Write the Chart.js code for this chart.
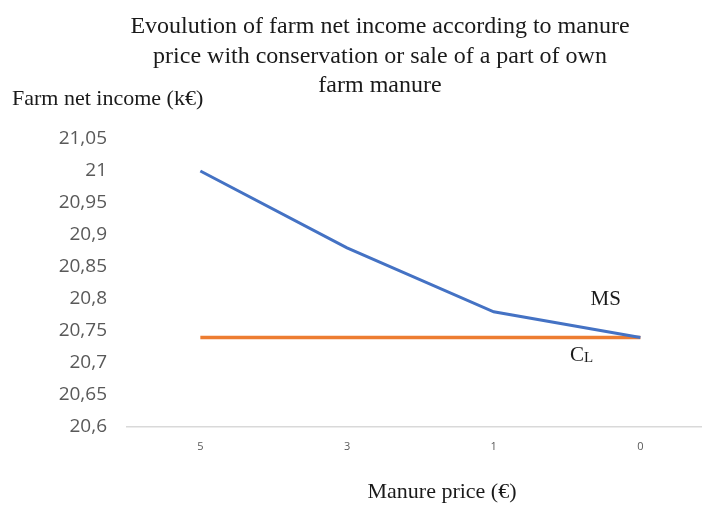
<!DOCTYPE html>
<html>
<head>
<meta charset="utf-8">
<script src="https://cdn.jsdelivr.net/npm/chart.js@4"></script>
<style>
  html, body { margin: 0; padding: 0; background: #fff; }
  #wrap { width: 702px; height: 505px; position: relative; }
</style>
</head>
<body>
<div id="wrap"><canvas id="chart"></canvas></div>
<script>
// data
const priceLabels = ['5', '3', '1', '0'];
const msIncome = [21, 20.88, 20.78, 20.74];
const clIncome = [20.74, 20.74, 20.74, 20.74];
const yTicks = [20.6, 20.65, 20.7, 20.75, 20.8, 20.85, 20.9, 20.95, 21, 21.05];

const titleLines = [
    'Evoulution of farm net income according to manure',
    'price with conservation or sale of a part of own',
    'farm manure'
];

const serif = '"Liberation Serif", "Times New Roman", serif';

// draws the titles and series labels
const textPlugin = {
    id: 'texts',
    afterDraw(chart) {
        const ctx = chart.ctx;
        const x = chart.scales.x, y = chart.scales.y;
        ctx.save();
        ctx.fillStyle = '#1a1a1a';
        ctx.textBaseline = 'middle';
        ctx.font = '24px ' + serif;
        ctx.textAlign = 'center';
        titleLines.forEach((line, i) => ctx.fillText(line, 380, 27 + i * 29.5));

        ctx.font = '22px ' + serif;
        ctx.textAlign = 'left';
        ctx.fillText('Farm net income (k\u20AC)', 12, 99);

        ctx.textAlign = 'center';
        ctx.fillText('Manure price (\u20AC)', 442, 492);

        // series labels near the right end
        ctx.textAlign = 'left';
        ctx.font = '21px ' + serif;
        ctx.fillText('MS', x.getPixelForValue(2.66), y.getPixelForValue(20.8));
        const cx = x.getPixelForValue(2.52), cy = y.getPixelForValue(20.711);
        ctx.fillText('C', cx, cy);
        const cw = ctx.measureText('C').width;
        ctx.font = '15px ' + serif;
        ctx.fillText('L', cx + cw, cy + 2);
        ctx.restore();
    }
};

new Chart(document.getElementById('chart'), {
    type: 'line',
    data: {
        datasets: [
            {
                label: 'MS',
                data: msIncome.map((v, i) => ({ x: i, y: v })),
                borderColor: '#4472C4',
                borderWidth: 3,
                pointRadius: 0,
                tension: 0
            },
            {
                label: 'CL',
                data: clIncome.map((v, i) => ({ x: i, y: v })),
                borderColor: '#ED7D31',
                borderWidth: 3.5,
                pointRadius: 0,
                tension: 0
            }
        ]
    },
    options: {
        responsive: true,
        maintainAspectRatio: false,
        animation: false,
        layout: { padding: { top: 139, left: 0, right: 0, bottom: 0 } },
        plugins: {
            legend: { display: false },
            tooltip: { enabled: false }
        },
        scales: {
            x: {
                type: 'linear',
                min: -0.5,
                max: 3.42,
                afterBuildTicks: s => { s.ticks = priceLabels.map((_, i) => ({ value: i })); },
                afterFit: s => { s.height = 78; },
                grid: { display: false, drawTicks: false },
                border: { display: true, color: '#d9d9d9', width: 1.5 },
                ticks: {
                    padding: 13,
                    color: '#595959',
                    font: { family: '"Open Sans", sans-serif', size: 11 },
                    maxRotation: 0,
                    callback: v => priceLabels[v]
                }
            },
            y: {
                min: 20.6,
                max: 21.05,
                afterBuildTicks: s => { s.ticks = yTicks.map(v => ({ value: v })); },
                afterFit: s => { s.width = 127; },
                grid: { display: false, drawTicks: false },
                border: { display: false },
                ticks: {
                    padding: 20,
                    color: '#595959',
                    font: { family: '"Open Sans", sans-serif', size: 19 },
                    callback: v => String(Math.round(v * 100) / 100).replace('.', ',')
                }
            }
        }
    },
    plugins: [textPlugin]
});
</script>
</body>
</html>
